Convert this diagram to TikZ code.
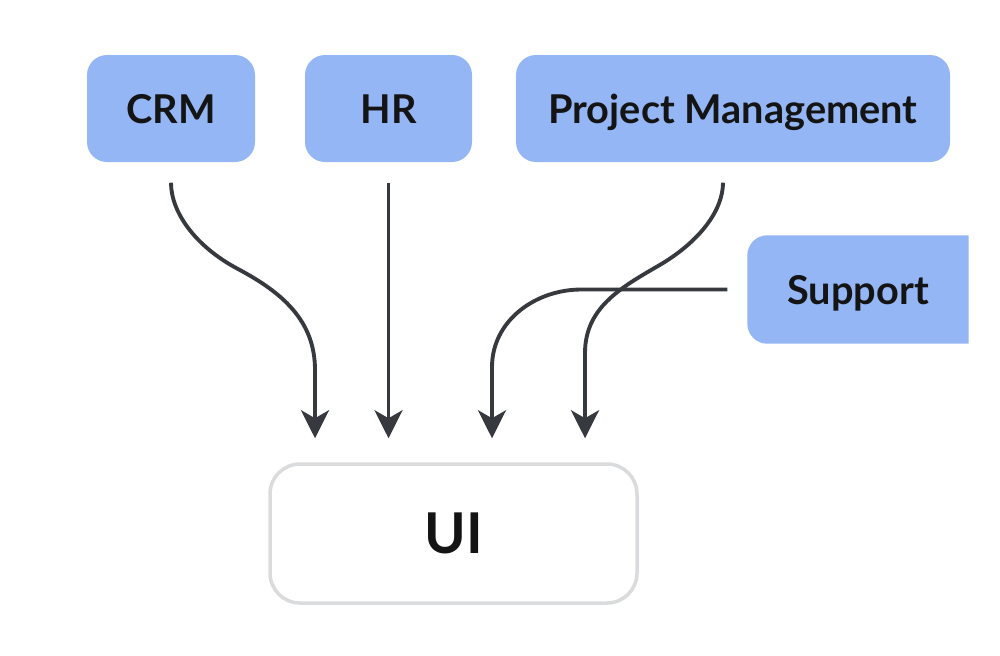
\documentclass[tikz,border=0pt]{standalone}
\usepackage{fontspec}
\setmainfont{Lato}
\usetikzlibrary{arrows.meta,backgrounds}
\definecolor{boxblue}{HTML}{94B6F5}
\definecolor{arrgray}{HTML}{36393E}
\definecolor{uigray}{HTML}{DADBDD}

\begin{document}
\begin{tikzpicture}[
  mod/.style={fill=boxblue, rounded corners=2mm, minimum height=1.07cm, text height=2.9mm, text depth=0pt, text=black!92, font=\fontsize{11.3}{14}\selectfont\bfseries},
  flow/.style={draw=arrgray, line width=1.1pt, -{Stealth[length=2.8mm,width=2.8mm,inset=0.8mm]}, shorten <=2mm, shorten >=2.4mm}
]
\useasboundingbox (0,0) rectangle (10,-6.55);
\node[mod, minimum width=1.68cm] (crm) at (1.71,-1.085) {CRM};
\node[mod, minimum width=1.67cm] (hr) at (3.885,-1.085) {HR};
\node[mod, minimum width=4.34cm] (pm) at (7.33,-1.085) {Project Management};
\node[mod, fill=none, minimum width=2.2cm] (support) at (8.58,-2.895) {Support};
\begin{scope}[on background layer]
\fill[boxblue] (support.north east) -- ([xshift=2mm]support.north west) arc[start angle=90,end angle=180,radius=2mm] -- ([yshift=2mm]support.south west) arc[start angle=180,end angle=270,radius=2mm] -- (support.south east) -- cycle;
\end{scope}
\node[draw=uigray, line width=1pt, fill=white, rounded corners=3mm, minimum width=3.67cm, minimum height=1.39cm, text height=4mm, text depth=0pt, text=black!92, font=\fontsize{16}{19}\selectfont\bfseries] (ui) at (4.535,-5.335) {UI};
\coordinate (a1) at ([xshift=-1.385cm]ui.north);
\coordinate (a3) at ([xshift=0.385cm]ui.north);
\coordinate (a4) at ([xshift=1.315cm]ui.north);
\draw[flow] (crm.south) to[out=-90,in=152] (2.38,-2.69) to[out=-28,in=90] (a1 |- 0,-3.7) -- (a1);
\draw[flow] (hr.south) -- (hr.south |- ui.north);
\draw[flow] ([xshift=-0.1cm]pm.south) to[out=-90,in=30] (6.58,-2.66) to[out=-150,in=90] (a4 |- 0,-3.53) -- (a4);
\draw[flow] (support.west) -- ++(-1.66,0) to[out=180,in=90] (a3 |- 0,-3.67) -- (a3);
\end{tikzpicture}
\end{document}
